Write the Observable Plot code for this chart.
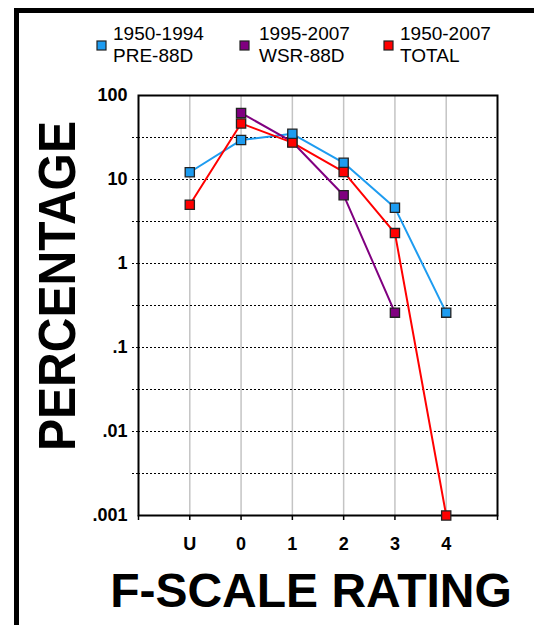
<!DOCTYPE html>
<html><head><meta charset="utf-8">
<script src="https://cdn.jsdelivr.net/npm/d3@7"></script>
<script src="https://cdn.jsdelivr.net/npm/@observablehq/plot@0.6"></script>
<style>
html,body{margin:0;padding:0;background:#fff;}
#wrap{position:relative;width:534px;height:625px;overflow:hidden;font-family:"Liberation Sans",Arial,sans-serif;}
#border{position:absolute;left:14px;top:8px;width:540px;height:640px;border-left:5px solid #000;border-top:5px solid #000;box-sizing:border-box;pointer-events:none;}
#chart{position:absolute;left:0;top:0;}
</style></head><body>
<div id="wrap"><div id="chart"></div><div id="border"></div></div>
<script>
const categories = ["U","0","1","2","3","4"];
const seriesNames = ["1950-1994","1995-2007","1950-2007"];
const seriesSubs = ["PRE-88D","WSR-88D","TOTAL"];
const seriesColors = ["#1e9cf0","#800080","#ff0000"];
const pre88d = [12.2, 29.5, 35, 15.8, 4.6, 0.26];
const wsr88d = [null, 62, 28, 6.5, 0.26, null];
const total = [5.0, 46.5, 27.5, 12.3, 2.3, 0.001];
const yTicks = [100, 10, 1, 0.1, 0.01, 0.001];
const yTickLabels = ["100", "10", "1", ".1", ".01", ".001"];
const yGrid = [31.62, 10, 3.162, 1, 0.3162, 0.1, 0.03162, 0.01, 0.003162];
const xTicks = [-1, 0, 1, 2, 3, 4, 5, 6];

const FONT = '"Liberation Sans", Arial, sans-serif';
const allSeries = [pre88d, wsr88d, total];
const data = [];
allSeries.forEach((vals, s) => vals.forEach((v, i) => {
  if (v != null) data.push({series: seriesNames[s], cat: categories[i], value: v});
}));
const xi = d => categories.indexOf(d.cat);
const dotOrder = [1, 2, 0];

const plot = Plot.plot({
  width: 534, height: 625,
  marginLeft: 138, marginRight: 37, marginTop: 95, marginBottom: 110,
  style: {fontFamily: FONT, fontSize: "17px", background: "transparent", overflow: "visible", color: "#000"},
  x: {type: "linear", domain: [-1, 6]},
  y: {type: "log", domain: [0.001, 100]},
  color: {domain: seriesNames, range: seriesColors},
  marks: [
    Plot.ruleX(categories.map((c, i) => i), {stroke: "#c4c4c4", strokeWidth: 1.5}),
    Plot.ruleY(yGrid, {stroke: "#000", strokeDasharray: "2,2", strokeWidth: 1.1}),
    Plot.axisY({ticks: yGrid, tickSize: 8, tickFormat: () => "", strokeDasharray: "2,2", label: null}),
    Plot.axisY({ticks: yTicks, tickSize: 0, tickPadding: 11, tickFormat: v => yTickLabels[yTicks.indexOf(v)] ?? "",
      fontWeight: "bold", fontSize: 18, label: null}),
    Plot.axisX({ticks: xTicks, tickSize: 5, tickPadding: 17, tickFormat: i => categories[i] ?? "",
      fontWeight: "bold", fontSize: 18, label: null, strokeWidth: 1.5}),
    Plot.frame({stroke: "#000", strokeWidth: 2}),
    Plot.line(data, {x: xi, y: "value", z: "series", stroke: "series", strokeWidth: 2}),
    ...dotOrder.map(s => Plot.dot(data.filter(d => d.series === seriesNames[s]),
      {x: xi, y: "value", fill: "series", symbol: "square", r: 5.2, stroke: "#222", strokeWidth: 1.3}))
  ]
});
document.getElementById("chart").appendChild(plot);

const svg = d3.select(plot);
svg.selectAll('g[aria-label$="tick label"]').attr("font-size", 18).attr("font-weight", "bold");
svg.append("text")
  .attr("transform", "translate(75,286) rotate(-90)")
  .attr("text-anchor", "middle")
  .attr("font-family", FONT).attr("font-size", 51).attr("font-weight", "bold")
  .attr("textLength", 330).attr("lengthAdjust", "spacingAndGlyphs")
  .attr("fill", "#000")
  .text("PERCENTAGE");
svg.append("text")
  .attr("x", 311).attr("y", 607)
  .attr("text-anchor", "middle")
  .attr("font-family", FONT).attr("font-size", 48).attr("font-weight", "bold")
  .attr("fill", "#000")
  .text("F-SCALE RATING");

const legSq = [97, 240, 384];
const legTx = [113, 259, 400];
seriesNames.forEach((name, s) => {
  const g = svg.append("g").attr("text-anchor", "start");
  g.append("rect").attr("x", legSq[s]).attr("y", 41).attr("width", 9).attr("height", 9)
    .attr("fill", seriesColors[s]).attr("stroke", "#222").attr("stroke-width", 1.2);
  g.append("text").attr("x", legTx[s]).attr("y", 40).attr("text-anchor", "start")
    .attr("font-family", FONT).attr("font-size", 19).attr("fill", "#000").text(name);
  g.append("text").attr("x", legTx[s]).attr("y", 62).attr("text-anchor", "start")
    .attr("font-family", FONT).attr("font-size", 19).attr("fill", "#000").text(seriesSubs[s]);
});
</script>
</body></html>
